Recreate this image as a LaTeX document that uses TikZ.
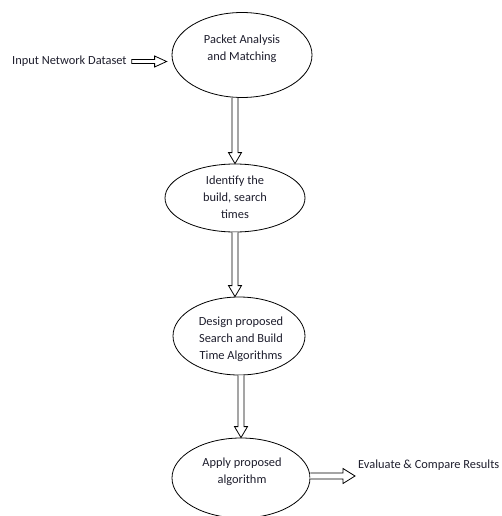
\documentclass[tikz,border=0pt]{standalone}
\usepackage{fontspec}
\setmainfont{Carlito}
\usetikzlibrary{shapes.geometric,calc}
\definecolor{ink}{RGB}{30,30,45}
\begin{document}
\begin{tikzpicture}[x=1pt,y=-1pt,
  oval/.style={draw, ellipse, line width=0.8pt, inner sep=0pt},
  txt/.style={font=\fontsize{12.4}{17}\selectfont, align=center, inner sep=0pt, text=ink},
  blk/.style={draw, fill=white, line width=0.8pt, line join=miter}]
\useasboundingbox (0,0) rectangle (501,516);

% ellipses
\node[oval, minimum width=140, minimum height=85] (e1) at (242,55) {};
\node[txt] (t1) at (242,49) {Packet Analysis\\and Matching};

\node[oval, minimum width=140, minimum height=68] (e2) at (235,198) {};
\node[txt] (t2) at (235,197) {Identify the\\build, search\\times};

\node[oval, minimum width=132, minimum height=78] (e3) at (239,336) {};
\node[txt] (t3) at (241,339) {Design proposed\\Search and Build\\Time Algorithms};

\node[oval, minimum width=138, minimum height=80] (e4) at (241,478) {};
\node[txt] (t4) at (242,472) {Apply proposed\\algorithm};

% side texts
\node[txt, anchor=west] (inp) at (12,61) {Input Network Dataset};
\node[txt, anchor=west] (out) at (358,465) {Evaluate \& Compare Results};

% vertical block arrows
\draw[blk] let \p1=(e1.south), \p2=(e2.north) in
  (\x2-3pt,\y1) -- (\x2-3pt,\y2+11pt) -- (\x2-6.5pt,\y2+11pt) -- (\x2,\y2)
  -- (\x2+6.5pt,\y2+11pt) -- (\x2+3pt,\y2+11pt) -- (\x2+3pt,\y1);
\draw[blk] let \p1=(e2.south), \p2=(e3.north), \p3=(e2.center) in
  (\x3-3pt,\y1) -- (\x3-3pt,\y2+11pt) -- (\x3-6.5pt,\y2+11pt) -- (\x3,\y2)
  -- (\x3+6.5pt,\y2+11pt) -- (\x3+3pt,\y2+11pt) -- (\x3+3pt,\y1);
\draw[blk] let \p1=(e3.south), \p2=(e4.north) in
  (\x2-3pt,\y1) -- (\x2-3pt,\y2+11pt) -- (\x2-6.5pt,\y2+11pt) -- (\x2,\y2)
  -- (\x2+6.5pt,\y2+11pt) -- (\x2+3pt,\y2+11pt) -- (\x2+3pt,\y1);

% horizontal block arrows
\draw[blk] let \p1=(inp.east), \p2=(e1.west) in
  (\x1+5pt,\y1+1.5pt) -- (\x2-17pt,\y1+1.5pt) -- (\x2-17pt,\y1+5pt) -- (\x2-5pt,\y1-0.5pt)
  -- (\x2-17pt,\y1-6pt) -- (\x2-17pt,\y1-2.5pt) -- (\x1+5pt,\y1-2.5pt) -- cycle;
\draw[blk] let \p1=(e4.east), \p2=(out.west) in
  (\x1,\y1+5pt) -- (\x2-15pt,\y1+5pt) -- (\x2-15pt,\y1+9.5pt) -- (\x2-3pt,\y1+2pt)
  -- (\x2-15pt,\y1-5.5pt) -- (\x2-15pt,\y1-1pt) -- (\x1,\y1-1pt);
\end{tikzpicture}
\end{document}
